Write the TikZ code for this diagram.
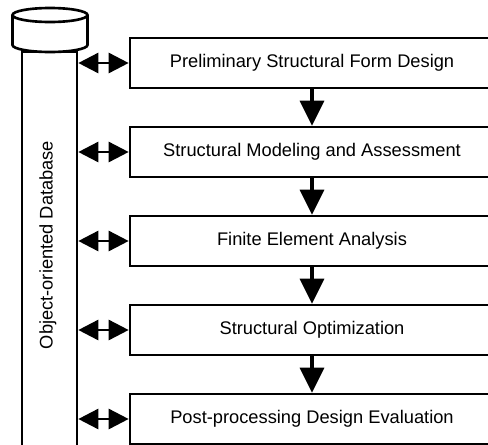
\documentclass[tikz,border=0pt]{standalone}
\usepackage{fontspec}
\setmainfont{Liberation Sans}
\usetikzlibrary{arrows.meta}

\begin{document}
\begin{tikzpicture}[
    box/.style={rectangle, draw, line width=1.5pt, minimum width=7.28cm, minimum height=1cm, fill=white, font=\fontsize{10.4}{12.5}\selectfont},
    column/.style={rectangle, draw, line width=1.5pt, minimum width=1.1cm, minimum height=7.94cm},
    biarrow/.style={{Triangle[length=4mm,width=4mm]}-{Triangle[length=4mm,width=4mm]}, line width=1.5pt},
    flow/.style={-{Triangle[length=5mm,width=4.8mm]}, line width=2pt}
]
\useasboundingbox (0,0) rectangle (9.76,8.88);

% database column with its cap
\node[column] (db) at (0.99,3.87) {};
\node[rotate=90, font=\fontsize{10.4}{12.5}\selectfont] (dblabel) at (0.96,3.98) {Object-oriented Database};
\draw[line width=1.5pt, fill=white] (0.25,8.58) -- (0.25,7.98)
    arc[start angle=180, end angle=360, x radius=0.75cm, y radius=0.14cm] -- (1.75,8.58);
\draw[line width=1.5pt, fill=white] (1.0,8.58) ellipse[x radius=0.75cm, y radius=0.14cm];

% design stages
\node[box] (prelim) at (6.24,7.62) {Preliminary Structural Form Design};
\node[box] (model) at (6.24,5.84) {Structural Modeling and Assessment};
\node[box] (fea) at (6.24,4.06) {Finite Element Analysis};
\node[box] (optim) at (6.24,2.28) {Structural Optimization};
\node[box] (post) at (6.24,0.50) {Post-processing Design Evaluation};

\draw[flow] (prelim) -- (model);
\draw[flow] (model) -- (fea);
\draw[flow] (fea) -- (optim);
\draw[flow] (optim) -- (post);

% links to the database
\draw[biarrow] (db.east |- prelim.west) -- (prelim.west);
\draw[biarrow] (db.east |- model.west) -- (model.west);
\draw[biarrow] (db.east |- fea.west) -- (fea.west);
\draw[biarrow] (db.east |- optim.west) -- (optim.west);
\draw[biarrow] (db.east |- post.west) -- (post.west);
\end{tikzpicture}
\end{document}
